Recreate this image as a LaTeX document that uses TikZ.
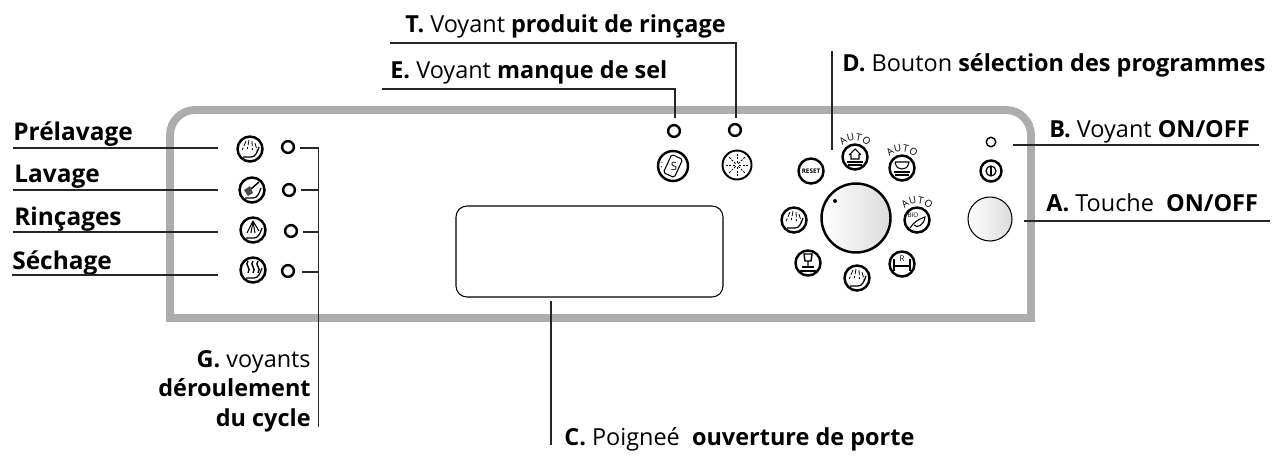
\documentclass[tikz,border=0pt]{standalone}
\usepackage{fontspec}
\setmainfont{Open Sans}

\newcommand{\labelfont}{\fontsize{13.35}{15}\selectfont}
\newcommand{\sidefont}{\fontsize{13.9}{15}\selectfont}
\newcommand{\autofont}{\fontsize{5.6}{6}\selectfont}
% letters of the arc over a programme icon
\newcommand{\autoarc}[2]{
	\foreach \c/\a in {A/-37,U/-13,T/11,O/35}
		\node[inner sep=0,font=\autofont,rotate=-\a,anchor=base] (#2\c) at ([shift={(\a-90:16.5)}]#1) {\c};
}

\tikzset{
	lbl/.style={anchor=base west,inner sep=0,font=\labelfont},
	side/.style={anchor=base west,inner sep=0,font=\sidefont},
	lblright/.style={anchor=base east,inner sep=0,font=\labelfont},
	conn/.style={draw=black!85,line width=.6pt},
	led/.style={circle,draw,line width=1.4pt,minimum size=.235cm,inner sep=0},
	ring/.style={circle,draw,fill=white,line width=1.4pt,minimum size=.5cm,inner sep=0},
	fine/.style={line width=.45pt},
	tub/.pic={\draw[fine,line width=.7pt] (-7,8) -- (1,8) .. controls (5,8) and (7,4) .. (9,-2);},
	spray/.pic={
		\pic {tub};
		\foreach \a/\b in {-4/-8,-1/-9,2/-8,5/-6}
			\draw[fine,dash pattern=on 3pt off 1pt] (\a,\b) -- ({\a*1.7-1},{\b+9});
	},
	rinse/.pic={
		\pic {tub};
		\foreach \a/\b in {-6/3,-2/3,2/3,6/1}
			\draw[fine,line width=.6pt] (0,-9) -- (\a,\b);
	},
	brush/.pic={
		\pic {tub};
		\draw[fine,line width=.8pt] (-1,-1) -- (7,-8);
		\fill[black!70] (-8,0) -- (-2,-4) -- (1,3) -- (-4,6) -- cycle;
	},
	dry/.pic={
		\pic {tub};
		\foreach \a in {-5,0,5}
			\draw[line width=.8pt] (\a,-9) .. controls (\a-4,-5) and (\a+4,-2) .. (\a,3);
	},
	house/.pic={
		\draw[fine,line width=.6pt] (-6,-2) -- (0,-8) -- (6,-2) (-4,-3) -- (-4,2) -- (4,2) -- (4,-3);
		\draw[fine,line width=.6pt] (-8,5) -- (8,5) (-7,8) -- (7,8);
	},
	bowl/.pic={
		\draw[fine,line width=.6pt] (-7,-6) -- (7,-6) .. controls (6,0) and (3,1) .. (0,1) .. controls (-3,1) and (-6,0) .. (-7,-6);
		\draw[fine,line width=.6pt] (-8,4) -- (8,4) (-7,7) -- (7,7);
	},
	leaf/.pic={
		\node[font=\fontsize{3.6}{4}\selectfont,inner sep=0] (bioText) at (-4,-5) {BIO};
		\draw[fine,line width=.6pt] (-7,8) .. controls (-3,2) and (0,0) .. (8,-3) .. controls (7,5) and (0,9) .. (-3,5);
	},
	rack/.pic={
		\draw[line width=.8pt] (-8,-5) -- (-8,7) (8,-5) -- (8,7) (-8,2) -- (8,2);
		\node[font=\fontsize{4.5}{5}\selectfont,inner sep=0] (rackText) at (0,-5) {R};
	},
	glass/.pic={
		\draw[line width=.8pt] (-4,-9) -- (4,-9) -- (3,-2) -- (-3,-2) -- cycle (0,-2) -- (0,3);
		\draw[line width=.8pt] (-6,4) -- (6,4);
		\draw[fine,line width=.6pt] (-9,8) -- (9,8);
	},
	power/.pic={
		\draw[line width=.7pt] (0,0) circle (5);
		\draw[line width=1.1pt] (0,-4) -- (0,4);
	},
	salt/.pic={
		\draw[line width=.6pt,rotate=-25,rounded corners=1pt] (-6,-10) rectangle (6,10);
		\node[font=\fontsize{6.5}{7}\selectfont,inner sep=0] (saltText) at (1,0) {S};
		\draw[fine,dotted] (-11,-4) -- (-12,4);
	},
	sparkle/.pic={
		\foreach \a in {0,45,...,315}
			\draw[fine,dash pattern=on 1.2pt off .8pt] (\a:2) -- (\a:11);
	}
}

\begin{document}
\begin{tikzpicture}[x=.02cm,y=-.02cm]
	\useasboundingbox (0,0) rectangle (1273,457);

	% panel
	\draw[line width=4.5pt,black!32] (170,135) arc[start angle=180,end angle=270,radius=25] -- (1006,110) arc[start angle=270,end angle=360,radius=25] -- (1031,318) -- (170,318) -- cycle;
	\draw[line width=.6pt,rounded corners=.22cm] (456,206) rectangle (723,297);

	% left column
	\node[ring](iconPrewash) at (250,149){};
	\pic at (iconPrewash) {spray};
	\node[ring](iconWash) at (252,190){};
	\pic at (iconWash) {brush};
	\node[ring](iconRinse) at (253,230){};
	\pic at (iconRinse) {rinse};
	\node[ring](iconDry) at (253,270){};
	\pic at (iconDry) {dry};
	\node[led](ledPrewash) at (288,147){};
	\node[led](ledWash) at (289,190){};
	\node[led](ledRinse) at (291,231){};
	\node[led](ledDry) at (288,271){};

	% top leds
	\node[led](ledSalt) at (674,131){};
	\node[led](ledRinseAid) at (735,130){};
	\node[ring,minimum size=.6cm](iconSalt) at (673,166){};
	\pic at (iconSalt) {salt};
	\node[ring,minimum size=.58cm,line width=1.1pt](iconRinseAid) at (737,165){};
	\pic at (iconRinseAid) {sparkle};

	% programme dial
	\node[circle,draw,line width=1.4pt,minimum size=1.38cm,inner sep=0,left color=white,right color=black!14](knob) at (856,218){};
	\node[circle,fill,minimum size=.08cm,inner sep=0](knobDot) at (835,201){};
	\node[ring](iconReset) at (811,171){\fontsize{3.6}{4}\selectfont\bfseries RESET};
	\node[ring](iconHouse) at (855,157){};
	\pic at (iconHouse) {house};
	\autoarc{iconHouse}{autoHouse}
	\node[ring](iconBowl) at (902,168){};
	\pic at (iconBowl) {bowl};
	\autoarc{iconBowl}{autoBowl}
	\node[ring](iconBio) at (917,220){};
	\pic at (iconBio) {leaf};
	\autoarc{iconBio}{autoBio}
	\node[ring](iconRack) at (902,264){};
	\pic at (iconRack) {rack};
	\node[ring](iconShower) at (857,278){};
	\pic at (iconShower) {spray};
	\node[ring](iconGlass) at (808,263){};
	\pic at (iconGlass) {glass};
	\node[ring](iconSpray) at (794,220){};
	\pic at (iconSpray) {spray};

	% on/off
	\node[circle,draw,line width=.8pt,minimum size=.19cm,inner sep=0](ledOnOff) at (991,142){};
	\node[ring,minimum size=.42cm](iconOnOff) at (991,171){};
	\pic at (iconOnOff) {power};
	\node[circle,draw,line width=.6pt,minimum size=.88cm,inner sep=0,left color=white,right color=black!14](btnOnOff) at (990,219){};

	% labels
	\node[side](lblPrewash) at (13,140){\textbf{Prélavage}};
	\node[side](lblWash) at (14,182){\textbf{Lavage}};
	\node[side](lblRinse) at (14,225){\textbf{Rinçages}};
	\node[side](lblDry) at (12,269){\textbf{Séchage}};
	\node[lbl](lblT) at (405,32){\textbf{T.} Voyant \textbf{produit de rinçage}};
	\node[lbl](lblE) at (390,78){\textbf{E.} Voyant \textbf{manque de sel}};
	\node[lbl](lblD) at (842,71){\textbf{D.} Bouton \textbf{sélection des programmes}};
	\node[lbl](lblB) at (1049,137){\textbf{B.} Voyant \textbf{ON/OFF}};
	\node[lbl](lblA) at (1046,211){\textbf{A.} Touche\ \ \textbf{ON/OFF}};
	\node[lbl](lblC) at (564,445){\textbf{C.} Poigneé\ \ \textbf{ouverture de porte}};
	\node[lblright](lblGa) at (311,367){\textbf{G.} voyants};
	\node[lblright](lblGb) at (311,396){\textbf{déroulement}};
	\node[lblright](lblGc) at (311,426){\textbf{du cycle}};

	% connectors
	\coordinate (prewashEnd) at (218,148);
	\coordinate (washEnd) at (218,190);
	\coordinate (rinseEnd) at (218,232);
	\coordinate (dryEnd) at (218,275);
	\draw[conn] (13,148) -- (prewashEnd);
	\draw[conn] (13,190) -- (washEnd);
	\draw[conn] (13,232) -- (rinseEnd);
	\draw[conn] (12,275) -- (dryEnd);
	\coordinate (busTop) at (318.5,148);
	\coordinate (busBottom) at (318.5,427);
	\draw[conn] (busTop) -- (busBottom);
	\foreach \y/\x in {148/300,190/301,232/303,272/302}
		\draw[conn] (\x,\y) -- (318.5,\y);
	\coordinate (saltLine) at (382,89);
	\coordinate (saltCorner) at (675,89);
	\coordinate (saltEnd) at (675,118);
	\draw[conn] (saltLine) -- (saltCorner) -- (saltEnd);
	\coordinate (rinseAidLine) at (390,43);
	\coordinate (rinseAidCorner) at (736,43);
	\coordinate (rinseAidEnd) at (736,118);
	\draw[conn] (rinseAidLine) -- (rinseAidCorner) -- (rinseAidEnd);
	\coordinate (dialTop) at (832,51);
	\coordinate (dialEnd) at (832,150);
	\draw[conn] (dialTop) -- (dialEnd);
	\coordinate (ledLineStart) at (1013,145);
	\coordinate (ledLineEnd) at (1259,145);
	\draw[conn] (ledLineStart) -- (ledLineEnd);
	\coordinate (btnLineStart) at (1024,221);
	\coordinate (btnLineEnd) at (1270,221);
	\draw[conn] (btnLineStart) -- (btnLineEnd);
	\coordinate (handleTop) at (551,301);
	\coordinate (handleBottom) at (551,445);
	\draw[conn] (handleTop) -- (handleBottom);
\end{tikzpicture}
\end{document}
